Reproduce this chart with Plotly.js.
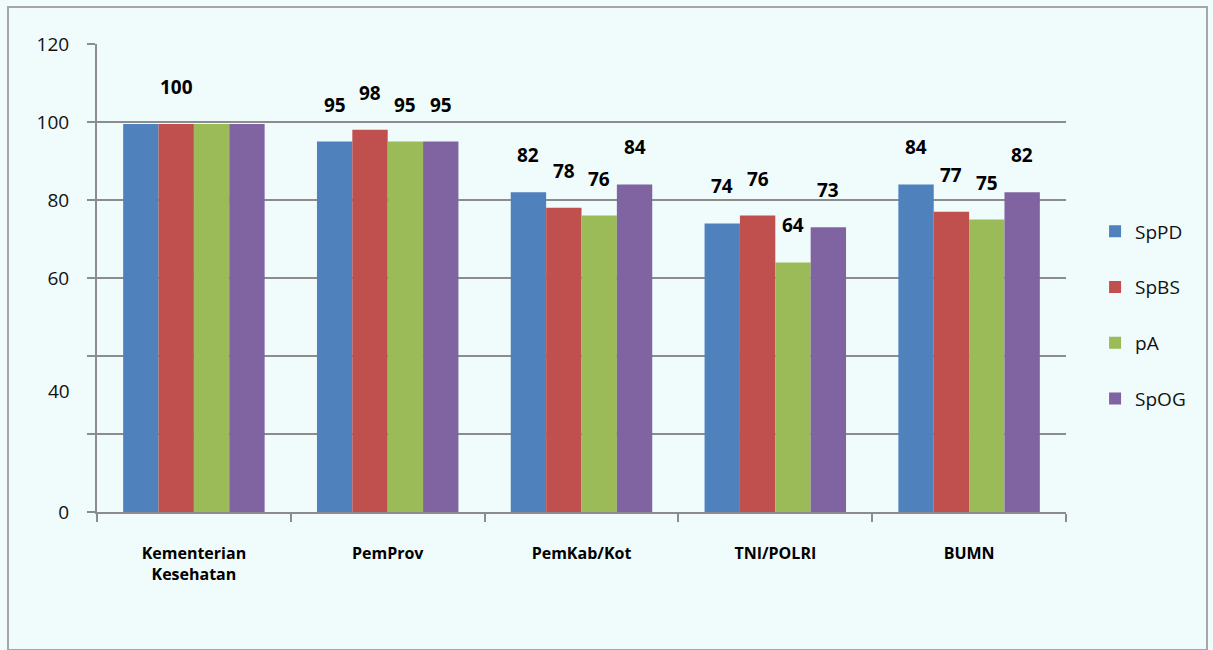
<!DOCTYPE html>
<html>
<head>
<meta charset="utf-8">
<script src="https://cdn.plot.ly/plotly-3.0.1.min.js"></script>
<style>
  html, body { margin: 0; padding: 0; background: #F0FBFB; }
  #wrap { position: relative; width: 1213px; height: 650px; }
  #chart { position: absolute; left: 0; top: 0; width: 1213px; height: 650px; }
  #frame { position: absolute; left: 7px; top: 6px; width: 1197px; height: 641px;
           border: 2px solid #A6A6A6; pointer-events: none; }
</style>
</head>
<body>
<div id="wrap"><div id="chart"></div><div id="frame"></div></div>
<script>
const categories = ['Kementerian<br>Kesehatan', 'PemProv', 'PemKab/Kot', 'TNI/POLRI', 'BUMN'];
const seriesNames = ['SpPD', 'SpBS', 'pA', 'SpOG'];
const SpPD = [99.5, 95, 82, 74, 84];
const SpBS = [99.5, 98, 78, 76, 77];
const pA   = [99.5, 95, 76, 64, 75];
const SpOG = [99.5, 95, 84, 73, 82];
// In the reference only one "100" label is visible over Kementerian Kesehatan
const SpPDLabels = ['', '95', '82', '74', '84'];
const SpBSLabels = ['100', '98', '78', '76', '77'];
const pALabels   = ['', '95', '76', '64', '75'];
const SpOGLabels = ['', '95', '84', '73', '82'];
const yTickVals = [0, 20, 40, 60, 80, 100, 120];
const yTickText = ['0', '', '', '60', '80', '100', '120'];

const colors = ['#4F81BD', '#C0504D', '#9BBB59', '#8064A2'];
const values = [SpPD, SpBS, pA, SpOG];
const labels = [SpPDLabels, SpBSLabels, pALabels, SpOGLabels];

const font = 'Open Sans, Lato, sans-serif';
const bargap = 0.27;
const slot = (1 - bargap) / seriesNames.length;

const traces = seriesNames.map((n, i) => ({
  type: 'bar', name: n, x: categories, y: values[i],
  marker: { color: colors[i] }, legendgroup: n,
  hoverinfo: 'x+y+name'
}));

const annotations = [];
seriesNames.forEach((n, i) => {
  categories.forEach((c, j) => {
    if (!labels[i][j]) return;
    annotations.push({
      text: labels[i][j], xref: 'x', yref: 'y',
      x: j + (i - (seriesNames.length - 1) / 2) * slot, y: values[i][j],
      xanchor: 'center', yanchor: 'bottom', yshift: 22, showarrow: false,
      font: { family: font, size: 19, color: '#000', weight: 'bold' }
    });
  });
});
annotations.push({
  text: '40', xref: 'paper', yref: 'y', x: -0.026, y: 31, xanchor: 'right', yanchor: 'middle',
  showarrow: false, font: { family: font, size: 19, color: '#111' }
});

const layout = {
  width: 1213, height: 650,
  margin: { l: 97, r: 147, t: 44, b: 138 },
  paper_bgcolor: 'rgba(0,0,0,0)', plot_bgcolor: 'rgba(0,0,0,0)',
  barmode: 'group', bargap: bargap, bargroupgap: 0,
  font: { family: font, color: '#000' },
  showlegend: true,
  legend: {
    x: 1.03, xanchor: 'left', y: 0.64, yanchor: 'top',
    font: { family: font, size: 19, color: '#111' },
    tracegroupgap: 28, bgcolor: 'rgba(0,0,0,0)'
  },
  xaxis: {
    type: 'category', showgrid: false, showline: true, linecolor: '#8C8C8C', linewidth: 2,
    ticks: 'outside', tickson: 'boundaries', ticklen: 8, tickcolor: '#8C8C8C', tickwidth: 2,
    ticklabelstandoff: 26,
    tickfont: { family: font, size: 16, color: '#000', weight: 'bold' }
  },
  yaxis: {
    range: [0, 120], tickvals: yTickVals, ticktext: yTickText,
    showgrid: true, gridcolor: '#8C8C8C', gridwidth: 2,
    showline: true, linecolor: '#8C8C8C', linewidth: 2,
    ticks: 'outside', ticklen: 8, tickcolor: '#8C8C8C', tickwidth: 2,
    ticklabelstandoff: 14, zeroline: false,
    tickfont: { family: font, size: 19, color: '#111' }
  },
  annotations: annotations
};

Plotly.newPlot('chart', traces, layout, { displayModeBar: false, responsive: false });
</script>
</body>
</html>
